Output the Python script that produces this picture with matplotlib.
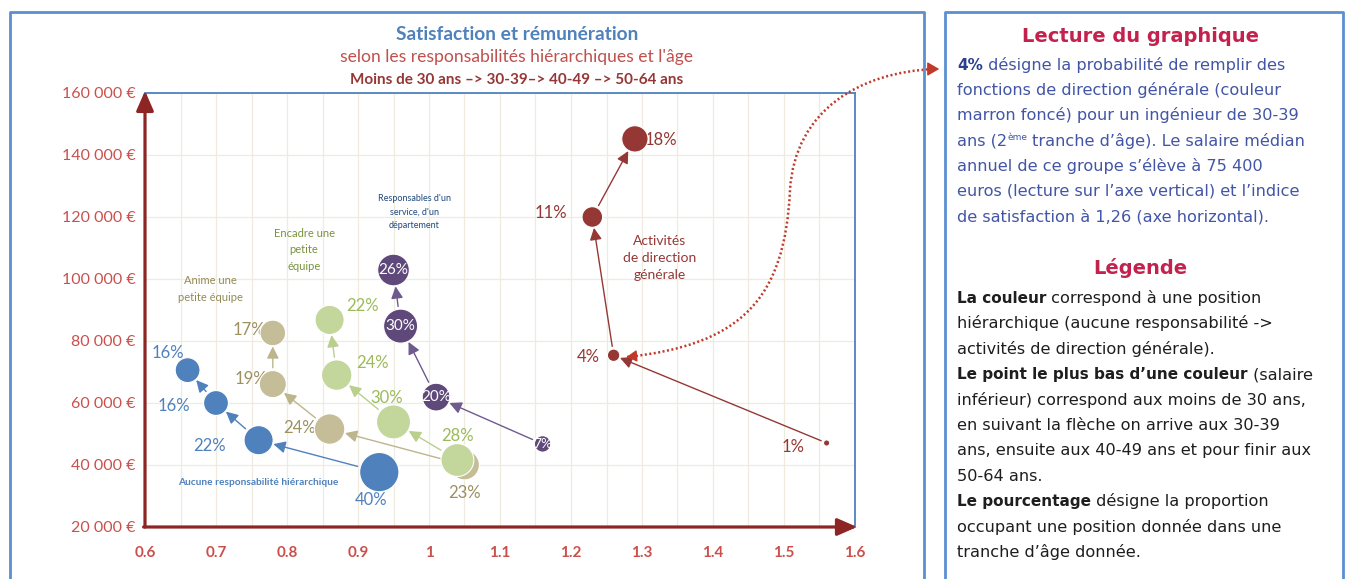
import matplotlib
matplotlib.use('Agg')
import matplotlib.pyplot as plt
from matplotlib.path import Path
from matplotlib.patches import PathPatch, FancyArrowPatch
from matplotlib.lines import Line2D
import numpy as np

# ---------------- DATA ----------------
# order of each series: <30 ans, 30-39, 40-49, 50-64
sat_aucune = [0.93, 0.76, 0.70, 0.66]
sal_aucune = [37700, 48000, 60000, 70600]
pct_aucune = [40, 22, 16, 16]

sat_anime = [1.05, 0.86, 0.78, 0.78]
sal_anime = [40000, 51600, 66100, 82600]
pct_anime = [23, 24, 19, 17]

sat_encadre = [1.04, 0.95, 0.87, 0.86]
sal_encadre = [41600, 53900, 69000, 86800]
pct_encadre = [28, 30, 24, 22]

sat_resp = [1.16, 1.01, 0.96, 0.95]
sal_resp = [46800, 61900, 84800, 102900]
pct_resp = [7, 20, 30, 26]

sat_dir = [1.56, 1.26, 1.23, 1.29]
sal_dir = [47100, 75400, 120000, 145200]
pct_dir = [1, 4, 11, 18]

group_names = ["Aucune responsabilité hiérarchique",
               "Anime une\npetite équipe",
               "Encadre une\npetite\néquipe",
               "Responsables d'un\nservice, d'un\ndépartement",
               "Activités\nde direction\ngénérale"]

y_ticks = [20000, 40000, 60000, 80000, 100000, 120000, 140000, 160000]
y_tick_labels = ["20 000 €", "40 000 €", "60 000 €", "80 000 €", "100 000 €",
                 "120 000 €", "140 000 €", "160 000 €"]
x_ticks = [0.6, 0.7, 0.8, 0.9, 1.0, 1.1, 1.2, 1.3, 1.4, 1.5, 1.6]
x_tick_labels = ["0.6", "0.7", "0.8", "0.9", "1", "1.1", "1.2", "1.3", "1.4", "1.5", "1.6"]

title1 = "Satisfaction et rémunération"
title2 = "selon les responsabilités hiérarchiques et l'âge"
title3 = "Moins de 30 ans –> 30-39–> 40-49 –> 50-64 ans"

# ---------------- STYLE / LAYOUT ----------------
W, H = 1346, 579
FONT = 'Lato'
plt.rcParams['font.family'] = [FONT, 'DejaVu Sans']

BLUE = '#4f81bd'
TAN = '#c4bd97'
TAN_T = '#9c9060'
GREEN = '#c3d69b'
GREEN_T = '#9bbb59'
PURPLE = '#5f497a'
RED = '#953735'
AXRED = '#8e2525'
TICKRED = '#c9504c'
FRAME = '#5b8fd0'

SIZE_K = 20.0  # points^2 per percent

series = [
    dict(x=sat_aucune, y=sal_aucune, p=pct_aucune, c=BLUE, ac=BLUE, tc=BLUE,
         off=[(-6, -20), (-35, -4), (-30, -2), (-14, 12)]),
    dict(x=sat_anime, y=sal_anime, p=pct_anime, c=TAN, ac='#bdb58c', tc=TAN_T,
         off=[(0, -20), (-22, 1), (-16, 4), (-17, 2)]),
    dict(x=sat_encadre, y=sal_encadre, p=pct_encadre, c=GREEN, ac='#b9cf8c', tc=GREEN_T,
         off=[(0, 17), (-5, 17), (26, 9), (24, 10)]),
    dict(x=sat_resp, y=sal_resp, p=pct_resp, c=PURPLE, ac='#6e5a8f', tc='white',
         off=[(0, 0), (0, 0), (0, 0), (0, 0)]),
    dict(x=sat_dir, y=sal_dir, p=pct_dir, c=RED, ac=RED, tc=RED,
         off=[(-24, -3), (-18, -1), (-30, 3), (19, -1)]),
]

group_label_style = [
    dict(pos=(0.759, 34200), color=BLUE, size=7.3, ls=1.2, weight='bold'),
    dict(pos=(0.692, 96800), color='#948a54', size=8, ls=1.7, weight='normal'),
    dict(pos=(0.824, 109400), color='#77933c', size=8, ls=1.6, weight='normal'),
    dict(pos=(0.979, 121600), color='#1f497d', size=6.5, ls=1.6, weight='normal'),
    dict(pos=(1.325, 106800), color=RED, size=10, ls=1.5, weight='normal'),
]

fig = plt.figure(figsize=(W / 100, H / 100), dpi=100)
fig.patch.set_facecolor('white')


def fx(px):
    return px / W


def fy(py):
    return 1 - py / H


ax = fig.add_axes([fx(145), fy(527), fx(855) - fx(145), fy(93) - fy(527)])
ax.set_xlim(0.6, 1.6)
ax.set_ylim(20000, 160000)
ax.set_xticks(x_ticks)
ax.set_xticklabels(x_tick_labels)
ax.set_xticks(np.arange(0.65, 1.6, 0.1), minor=True)
ax.set_yticks(y_ticks)
ax.set_yticklabels(y_tick_labels)
ax.tick_params(which='both', length=0)
ax.tick_params(axis='y', pad=7, labelcolor=TICKRED, labelsize=11.5)
ax.tick_params(axis='x', pad=14, labelcolor=TICKRED, labelsize=11)
for lab in ax.get_xticklabels():
    lab.set_fontweight('bold')
ax.grid(True, which='both', axis='x', color='#efecdf', lw=0.9, zorder=0)
ax.grid(True, which='major', axis='y', color='#efecdf', lw=0.9, zorder=0)
ax.set_axisbelow(True)
for s in ['left', 'bottom']:
    ax.spines[s].set_visible(False)
for s in ['top', 'right']:
    ax.spines[s].set_color(BLUE)
    ax.spines[s].set_linewidth(1.3)

# axis arrows
for tip, base in [((0, 1.005), (0, 0)), ((1.003, 0), (-0.002, 0))]:
    ax.annotate('', xy=tip, xytext=base, xycoords='axes fraction',
                arrowprops=dict(arrowstyle='-|>,head_length=0.8,head_width=0.35', color=AXRED,
                                lw=2.3, shrinkA=0, shrinkB=0, mutation_scale=15),
                annotation_clip=False)

for si, sr in enumerate(series):
    sizes = [SIZE_K * p for p in sr['p']]
    radii = [np.sqrt(s) / 2 for s in sizes]
    # arrows
    for i in range(len(sr['x']) - 1):
        ax.annotate('', xy=(sr['x'][i + 1], sr['y'][i + 1]), xytext=(sr['x'][i], sr['y'][i]),
                    arrowprops=dict(arrowstyle='-|>,head_length=0.6,head_width=0.3',
                                    color=sr['ac'], lw=1.0, mutation_scale=12,
                                    shrinkA=radii[i] + 2, shrinkB=radii[i + 1] + 0.5),
                    zorder=2)
    # labels
    for i in range(len(sr['x'])):
        z = 5 if sr['tc'] == 'white' else 3
        fs = 12 if sr['tc'] != 'white' else (11 if sr['p'][i] > 10 else 10)
        ax.annotate(f"{sr['p'][i]}%", xy=(sr['x'][i], sr['y'][i]), xytext=sr['off'][i],
                    textcoords='offset points', ha='center', va='center',
                    color=sr['tc'], fontsize=fs, zorder=z)
    ax.scatter(sr['x'], sr['y'], s=sizes, color=sr['c'], edgecolors='white',
               linewidths=0.8, zorder=4)

for name, st in zip(group_names, group_label_style):
    ax.text(st['pos'][0], st['pos'][1], name, ha='center', va='center', color=st['color'],
            fontsize=st['size'], linespacing=st['ls'], fontweight=st['weight'], zorder=3)

# titles
fig.text(fx(517), fy(35), title1, ha='center', va='center', color=BLUE,
         fontsize=13.8, fontweight='bold')
fig.text(fx(517), fy(57), title2, ha='center', va='center', color='#c0504d', fontsize=12.6)
fig.text(fx(517), fy(80), title3, ha='center', va='center', color=RED,
         fontsize=11, fontweight='bold')


# frames
def frame(x0, x1, y0, color=FRAME, lw=2):
    fig.add_artist(Line2D([fx(x0), fx(x0), fx(x1), fx(x1)], [0, fy(y0), fy(y0), 0],
                          transform=fig.transFigure, color=color, lw=lw))


frame(10, 924, 12)
frame(945, 1343, 12)

# dotted connector
verts = [(627, 357), (740, 345), (785, 300), (790, 190), (795, 110), (860, 72), (935, 69)]
verts_f = [(fx(a), fy(b)) for a, b in verts]
codes = [Path.MOVETO, Path.CURVE4, Path.CURVE4, Path.CURVE4, Path.CURVE4, Path.CURVE4, Path.CURVE4]
fig.add_artist(PathPatch(Path(verts_f, codes), transform=fig.transFigure, fill=False,
                         edgecolor='#c0392b', lw=1.8, linestyle=(0, (0.8, 1.0))))
fig.add_artist(FancyArrowPatch((fx(928), fy(69)), (fx(942), fy(69)),
               transform=fig.transFigure, arrowstyle='-|>,head_length=0.6,head_width=0.35',
               mutation_scale=12, color='#c0392b', lw=1))
fig.add_artist(FancyArrowPatch((fx(636), fy(356)), (fx(624), fy(357)),
               transform=fig.transFigure, arrowstyle='-|>,head_length=0.6,head_width=0.35',
               mutation_scale=10, color='#c0392b', lw=1))

# right panel text
renderer = fig.canvas.get_renderer()
PANEL_BLUE = '#4255a6'
HEAD = '#c3224f'
PFONT = ['DejaVu Sans']
BODY_FS = 11.6
BOLD_FS = 11.0


def rich_line(x, y, segs, color):
    cur = x
    for seg in segs:
        txt = seg[0]
        props = dict(seg[1]) if len(seg) > 1 else {}
        dy = props.pop('dy', 0)
        t = fig.text(fx(cur), fy(y - dy), txt, ha='left', va='baseline',
                     color=props.pop('color', color), fontsize=props.pop('fontsize', BODY_FS),
                     family=PFONT, **props)
        cur += t.get_window_extent(renderer).width


fig.text(fx(1140), fy(36), "Lecture du graphique", ha='center', va='center', color=HEAD,
         fontsize=14, fontweight='bold', family=PFONT)
lines1 = [
    [("4%", dict(fontweight='bold', color='#2c3e8f', fontsize=BOLD_FS)),
     (" désigne la probabilité de remplir des",)],
    [("fonctions de direction générale (couleur",)],
    [("marron foncé) pour un ingénieur de 30-39",)],
    [("ans (2",), ("ème", dict(fontsize=6.5, dy=6)), (" tranche d’âge). Le salaire médian",)],
    [("annuel de ce groupe s’élève à 75 400",)],
    [("euros (lecture sur l’axe vertical) et l’indice",)],
    [("de satisfaction à 1,26 (axe horizontal).",)],
]
y0 = 70
for k, ln in enumerate(lines1):
    rich_line(957, y0 + k * 25.2, ln, PANEL_BLUE)

fig.text(fx(1140), fy(268), "Légende", ha='center', va='center', color=HEAD,
         fontsize=14, fontweight='bold', family=PFONT)
lines2 = [
    [("La couleur", dict(fontweight='bold', fontsize=BOLD_FS)), (" correspond à une position",)],
    [("hiérarchique (aucune responsabilité ->",)],
    [("activités de direction générale).",)],
    [("Le point le plus bas d’une couleur", dict(fontweight='bold', fontsize=BOLD_FS)),
     (" (salaire",)],
    [("inférieur) correspond aux moins de 30 ans,",)],
    [("en suivant la flèche on arrive aux 30-39",)],
    [("ans, ensuite aux 40-49 ans et pour finir aux",)],
    [("50-64 ans.",)],
    [("Le pourcentage", dict(fontweight='bold', fontsize=BOLD_FS)), (" désigne la proportion",)],
    [("occupant une position donnée dans une",)],
    [("tranche d’âge donnée.",)],
]
y0 = 303
for k, ln in enumerate(lines2):
    rich_line(957, y0 + k * 25.4, ln, '#1e1e1e')

fig.savefig('out.png', dpi=100, facecolor='white')
